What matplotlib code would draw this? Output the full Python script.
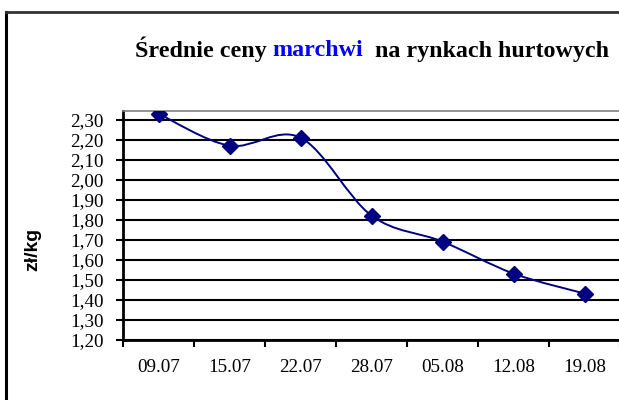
import matplotlib
matplotlib.use("Agg")
import matplotlib.pyplot as plt
from matplotlib.path import Path
from matplotlib.patches import PathPatch
from matplotlib.lines import Line2D
import numpy as np

categories = ["09.07", "15.07", "22.07", "28.07", "05.08", "12.08", "19.08"]
prices = [2.33, 2.17, 2.21, 1.82, 1.69, 1.53, 1.43]
yticks = [1.20, 1.30, 1.40, 1.50, 1.60, 1.70, 1.80, 1.90, 2.00, 2.10, 2.20, 2.30]
title_parts = [("Średnie ceny ", "black"), ("marchwi", "#0000FF"), ("  na rynkach hurtowych", "black")]
ylabel = "zł/kg"

W, H = 619, 400
fig = plt.figure(figsize=(W / 100, H / 100), dpi=100)
fig.patch.set_facecolor("white")

left, right, top, bottom = 123, 620, 110.7, 339.5
ax = fig.add_axes([left / W, 1 - bottom / H, (right - left) / W, (bottom - top) / H])

navy = "#000080"
x = np.arange(len(categories))
y = np.array(prices)

# smoothed line (Catmull-Rom style bezier like Excel)
verts = [(x[0], y[0])]
codes = [Path.MOVETO]
n = len(x)
for i in range(n - 1):
    p0 = np.array([x[max(i - 1, 0)], y[max(i - 1, 0)]])
    p1 = np.array([x[i], y[i]])
    p2 = np.array([x[i + 1], y[i + 1]])
    p3 = np.array([x[min(i + 2, n - 1)], y[min(i + 2, n - 1)]])
    c1 = p1 + (p2 - p0) / 6
    c2 = p2 - (p3 - p1) / 6
    verts += [tuple(c1), tuple(c2), tuple(p2)]
    codes += [Path.CURVE4] * 3
ax.add_patch(PathPatch(Path(verts, codes), facecolor="none", edgecolor=navy, lw=1.4, zorder=3))
ax.plot(x, y, linestyle="none", marker="D", markersize=8.5, color=navy, zorder=4)

ax.set_xlim(-0.5, len(categories) - 0.5)
ax.set_ylim(1.20, 2.345)
ax.set_yticks(yticks)
ax.set_yticklabels([f"{v:.2f}".replace(".", ",") for v in yticks],
                   fontfamily="Liberation Serif", fontsize=13.8)
ax.yaxis.grid(True, color="black", lw=1.5)
ax.set_axisbelow(True)

ax.set_xticks(np.arange(-0.5, len(categories), 1.0))
ax.set_xticklabels([])
ax.set_xticks(x, minor=True)
ax.set_xticklabels(categories, minor=True, fontfamily="Liberation Serif", fontsize=13.8)
ax.tick_params(axis="x", which="minor", length=0, pad=14)
ax.tick_params(axis="x", which="major", length=5, width=1.5, direction="out")
ax.tick_params(axis="y", length=5, width=1.5, direction="out", pad=9)

for s in ["right"]:
    ax.spines[s].set_visible(False)
ax.spines["top"].set_color("#808080")
ax.spines["top"].set_linewidth(1.2)
ax.spines["left"].set_linewidth(2)
ax.spines["bottom"].set_linewidth(2)

fig.text(33 / W, 1 - 249 / H, ylabel, rotation=90, ha="center", va="center",
         fontfamily="Liberation Sans", fontweight="bold", fontsize=14)

# frame lines
fig.add_artist(Line2D([5.5 / W, 5.5 / W], [0, 1 - 12 / H], color="black", lw=2.2))
fig.add_artist(Line2D([5.5 / W, 1], [1 - 12 / H, 1 - 12 / H], color="#333333", lw=2.0))

# title with coloured word
fig.canvas.draw()
r = fig.canvas.get_renderer()
xpos = 135
for txt, col in title_parts:
    t = fig.text(xpos / W, 1 - 56.5 / H, txt, color=col, fontfamily="Liberation Serif",
                 fontweight="bold", fontsize=17.3, ha="left", va="baseline")
    bb = t.get_window_extent(renderer=r)
    xpos += bb.width

fig.savefig("out.png", dpi=100, facecolor="white")
